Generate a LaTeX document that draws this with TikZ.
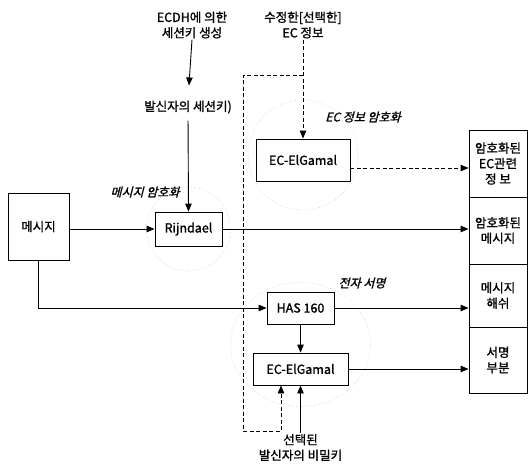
\documentclass[tikz,border=0pt]{standalone}
\usepackage{fontspec}
\setmainfont{Noto Sans CJK KR}[RawFeature={embolden=1.3}]
\newfontfamily\slantkr[FakeSlant=0.25, RawFeature={embolden=1.3}]{Noto Sans CJK KR}
\usetikzlibrary{arrows.meta, positioning, calc}

\begin{document}
\begin{tikzpicture}[
    x=1pt, y=1pt,
    blk/.style={draw, line width=0.9pt, inner sep=2pt, align=center,
        font=\fontsize{12.5}{15.5}\selectfont},
    txt/.style={align=center, inner sep=1pt, font=\fontsize{12.5}{15.5}\selectfont},
    grp/.style={inner sep=1pt, font=\slantkr\fontsize{12}{14}\selectfont},
    link/.style={line width=0.9pt, -{Triangle[length=8pt, width=6.5pt]}},
    dlink/.style={link, dash pattern=on 4pt off 2.5pt},
    ring/.style={draw=gray!45, dotted, line width=0.6pt}
]
\useasboundingbox (0,0) rectangle (528,-464);

% --- inputs (top / bottom texts) ---
\node[txt] (ecdh) at (192,-25) {ECDH에 의한\\세션키 생성};
\node[txt] (skey) at (188,-107) {발신자의 세션키)};
\node[txt] (ecinfo) at (303,-25) {수정한[선택한]\\EC 정보};
\node[txt] (secret) at (300.5,-447.5) {선택된\\발신자의 비밀키};

% --- blocks ---
\node[blk, minimum width=61pt, minimum height=67pt] (msg) at (38.5,-226.5) {메시지};
\node[blk, minimum width=67pt, minimum height=34pt] (rijn) at (188.5,-229) {Rijndael};
\node[blk, minimum width=94pt, minimum height=42pt] (ecg1) at (303,-160) {EC-ElGamal};
\node[blk, minimum width=67pt, minimum height=32pt] (has) at (300.5,-308) {HAS 160};
\node[blk, minimum width=95pt, minimum height=32pt] (ecg2) at (300.5,-369) {EC-ElGamal};

% --- output column (right) ---
\node[blk, minimum width=58pt, minimum height=67pt] (out1) at (498,-163.5) {암호화된\\EC관련\\정 보};
\node[blk, minimum width=58pt, minimum height=67pt] (out2) at (498,-230.5) {암호화된\\메시지};
\node[blk, minimum width=58pt, minimum height=63pt] (out3) at (498,-295.5) {메시지\\해쉬};
\node[blk, minimum width=58pt, minimum height=66pt] (out4) at (498,-360) {서명\\부분};

% --- group labels ---
\node[grp] (lmsg) at (145,-192) {메시지 암호화};
\node[grp] (lec) at (363,-117) {EC 정보 암호화};
\node[grp] (lsig) at (362,-283) {전자 서명};

% --- faint dotted groups ---
\draw[ring] (rijn.center) circle[radius=42];
\draw[ring] ([yshift=5pt]ecg1.center) circle[radius=55];
\draw[ring] ([yshift=-6pt]$(has)!0.5!(ecg2)$) ellipse[x radius=70, y radius=62];

% --- session key path ---
\draw[link, shorten >=14pt] (ecdh.south) -- (skey.north);
\draw[link, shorten <=6pt] (skey.south) -- (rijn.north);

% --- message path ---
\draw[link] (msg.east |- rijn.west) -- (rijn.west);
\draw[link] (rijn.east) -- (rijn.east -| out2.west);
\draw[link] (msg.south) |- (has.west);
\draw[link] (has.east) -- (has.east -| out3.west);
\draw[link] (has.south) -- (ecg2.north);
\draw[link] (ecg2.east) -- (ecg2.east -| out4.west);
\draw[link] (secret.north) -- (ecg2.south);

% --- EC info (dashed) ---
\coordinate (fork) at (ecinfo.south |- 0,-75);
\draw[dlink] (ecinfo.south) -- (ecg1.north);
\draw[dlink] (fork) -- ++(-60,0) -- ++(0,-356) -| ([xshift=-19.5pt]ecg2.south);
\draw[dlink] ([yshift=-8pt]ecg1.east) -- ([yshift=-8pt]ecg1.east -| out1.west);

\end{tikzpicture}
\end{document}
